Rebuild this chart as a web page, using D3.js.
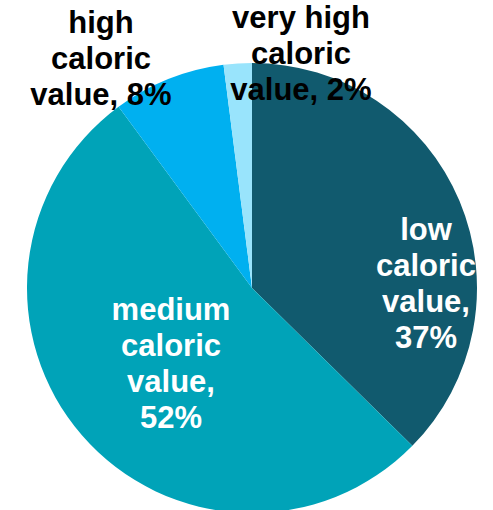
<!DOCTYPE html>
<html>
<head>
<meta charset="utf-8">
<script src="https://cdn.jsdelivr.net/npm/d3@7"></script>
<style>
  html, body { margin: 0; padding: 0; background: #fff; }
  svg { display: block; }
  .lbl { font-family: "Liberation Sans", Arial, sans-serif; font-weight: bold; font-size: 31px; }
</style>
</head>
<body>
<div id="chart"></div>
<script>
// pie data, clockwise from 12 o'clock
var categories = ["low caloric value", "medium caloric value", "high caloric value", "very high caloric value"];
var shares = [37, 52, 8, 2];
var labelLines = [
    ["low", "caloric", "value,", "37%"],
    ["medium", "caloric", "value,", "52%"],
    ["high", "caloric", "value, 8%"],
    ["very high", "caloric", "value, 2%"]
];

// layout
var svgWidth = 493;
var svgHeight = 510;
var cx = 252, cy = 288, radius = 225;
var colors = ["#115a6e", "#00a3b8", "#00b0f0", "#99e4fc"];
var textColors = ["#ffffff", "#ffffff", "#000000", "#000000"];
// label anchor (first baseline) relative to pie centre
var labelOffsets = [[174, -48], [-81, 32], [-151, -255], [49, -260]];
var lineHeight = 36;

var svg = d3.select("#chart")
    .append("svg")
    .attr("width", svgWidth)
    .attr("height", svgHeight);

var pieGroup = svg.append("g")
    .attr("transform", `translate(${cx}, ${cy})`);

var pie = d3.pie().sort(null).value(d => d);
var arc = d3.arc().innerRadius(0).outerRadius(radius);

pieGroup.selectAll("path")
    .data(pie(shares))
    .enter()
    .append("path")
    .attr("d", arc)
    .attr("fill", (d, i) => colors[i]);

// data labels
var labels = pieGroup.selectAll(".lbl")
    .data(labelLines)
    .enter()
    .append("text")
    .classed("lbl", true)
    .attr("text-anchor", "middle")
    .attr("fill", (d, i) => textColors[i])
    .attr("x", (d, i) => labelOffsets[i][0])
    .attr("y", (d, i) => labelOffsets[i][1]);

labels.each(function (lines, i) {
    var t = d3.select(this);
    lines.forEach(function (line, j) {
        t.append("tspan")
            .attr("x", labelOffsets[i][0])
            .attr("y", labelOffsets[i][1] + j * lineHeight)
            .text(line);
    });
});
</script>
</body>
</html>
